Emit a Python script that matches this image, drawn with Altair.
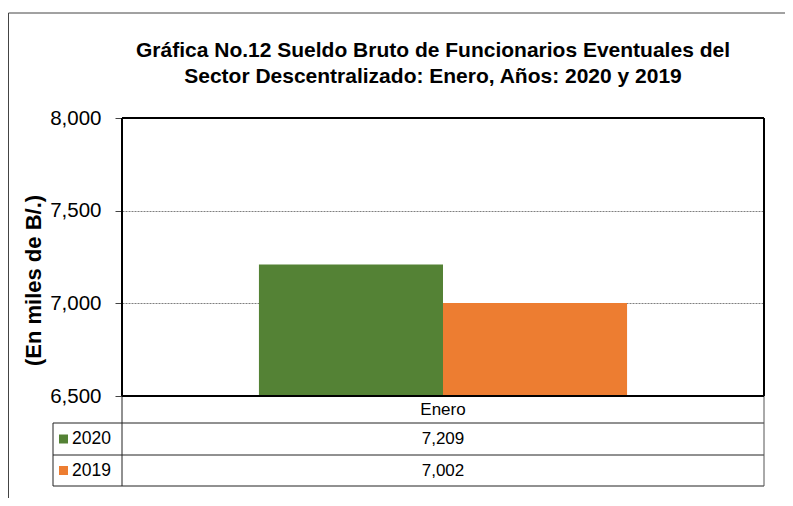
import altair as alt
import pandas as pd

categories = ["Enero"]
years = ["2020", "2019"]
values_2020 = [7209]
values_2019 = [7002]
colors = ["#548235", "#ED7D31"]
y_ticks = [6500, 7000, 7500, 8000]
title_lines = [
    "Gráfica No.12 Sueldo Bruto de Funcionarios Eventuales del",
    "Sector Descentralizado: Enero, Años: 2020 y 2019",
]
y_title = "(En miles de B/.)"

rows = []
for i, c in enumerate(categories):
    rows.append({"mes": c, "anio": "2020", "valor": values_2020[i]})
    rows.append({"mes": c, "anio": "2019", "valor": values_2019[i]})
df = pd.DataFrame(rows)
df_cat = pd.DataFrame({"mes": categories})
df_years = pd.DataFrame({"anio": years})
df_title = pd.DataFrame({"linea": title_lines, "n": list(range(len(title_lines)))})
one = pd.DataFrame({"k": [0]})

W, H = 642, 278
FONT = "Liberation Sans"

x_enc = alt.X("mes:N", scale=alt.Scale(paddingOuter=0.372, paddingInner=0), axis=None)
y_scale = alt.Scale(domain=[6500, 8000], nice=False, zero=False)
color_scale = alt.Scale(domain=years, range=colors)

bars = alt.Chart(df).mark_bar().encode(
    x=x_enc,
    xOffset=alt.XOffset("anio:N", sort=years, scale=alt.Scale(paddingInner=0, paddingOuter=0)),
    y=alt.Y(
        "valor:Q",
        scale=y_scale,
        axis=alt.Axis(
            values=y_ticks, format=",.0f", title=y_title,
            titleFont=FONT, titleFontSize=22, titleFontWeight="bold", titleColor="black",
            titleAngle=270, titleX=-89, titleY=162, titleAlign="center", titleBaseline="middle",
            labelFont=FONT, labelFontSize=20.5, labelColor="black", labelPadding=14,
            tickSize=7, tickColor="#444", domain=False,
            grid=True, gridColor="#7f7f7f", gridDash=[2, 1], gridWidth=1,
        ),
    ),
    y2=alt.datum(6500),
    color=alt.Color("anio:N", scale=color_scale, legend=None),
)


def rule(x, x2, y, y2, color="#222", width=1):
    return alt.Chart(one).mark_rule(color=color, strokeWidth=width).encode(
        x=alt.value(x), x2=alt.value(x2), y=alt.value(y), y2=alt.value(y2)
    )


row_y = {"2020": 321, "2019": 352.5}
title_y = [-61, -35.5]

layers = [bars]

# chart title (two lines)
for i in range(len(title_lines)):
    layers.append(
        alt.Chart(df_title).transform_filter(f"datum.n == {i}").mark_text(
            font=FONT, fontSize=21, fontWeight="bold", color="black",
            baseline="alphabetic", align="center",
        ).encode(x=alt.value(W / 2 - 10), y=alt.value(title_y[i]), text="linea:N")
    )

layers.append(
    alt.Chart(df_cat).mark_text(font=FONT, fontSize=17, color="black", baseline="middle").encode(
        x=x_enc, y=alt.value(291.5), text="mes:N"
    )
)
for yr in years:
    layers.append(
        alt.Chart(df).transform_filter(f"datum.anio == '{yr}'").mark_text(
            font=FONT, fontSize=17, color="black", baseline="middle"
        ).encode(x=x_enc, y=alt.value(row_y[yr]), text=alt.Text("valor:Q", format=","))
    )
    layers.append(
        alt.Chart(df_years).transform_filter(f"datum.anio == '{yr}'").mark_square(size=81, opacity=1).encode(
            x=alt.value(-58.5), y=alt.value(row_y[yr]),
            color=alt.Color("anio:N", scale=color_scale, legend=None),
        )
    )
    layers.append(
        alt.Chart(df_years).transform_filter(f"datum.anio == '{yr}'").mark_text(
            font=FONT, fontSize=17.5, color="black", baseline="middle", align="left"
        ).encode(x=alt.value(-50), y=alt.value(row_y[yr]), text="anio:N")
    )

# table grid
layers += [
    rule(-69, W, 305, 305),
    rule(-69, W, 337, 337),
    rule(-69, W, 368, 368),
    rule(-69, -69, 305, 368),
    rule(0, 0, 278, 368),
    rule(W, W, 278, 368, color="#555"),
]
# plot border
layers += [
    rule(0, W, 0, 0, color="black", width=2),
    rule(0, W, H, H, color="black", width=2),
    rule(0, 0, 0, H, color="black", width=2),
    rule(W, W, 0, H, color="black", width=2),
]
# outer chart frame
layers += [
    rule(-113.5, 800, -105, -105, color="#444"),
    rule(-113.5, -113.5, -105, 420, color="#444"),
]

chart = alt.layer(*layers).properties(
    width=W,
    height=H,
    autosize=alt.AutoSizeParams(type="none"),
    padding={"left": 114, "top": 110, "right": 21, "bottom": 102},
).configure_view(stroke=None)

chart.save("out.html", embed_options={"renderer": "svg", "actions": False})
